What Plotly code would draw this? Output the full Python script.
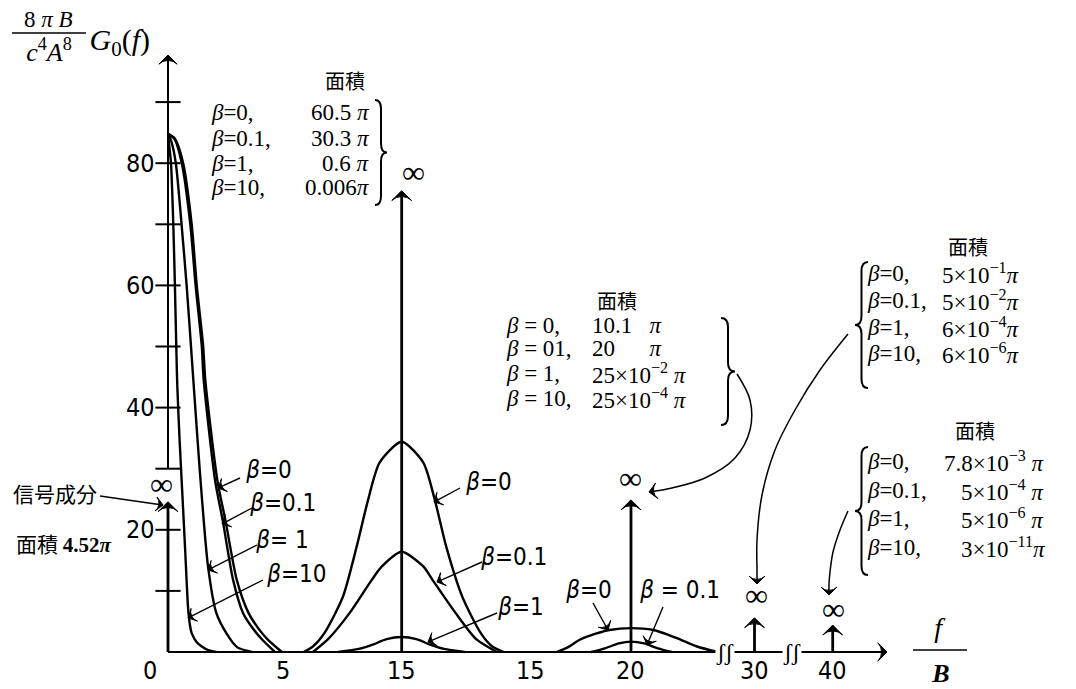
import plotly.graph_objects as go

# ---------------- data ----------------
# horizontal axis is hand-drawn: positions in "f/B" display units
xtick_pos = [0, 5, 10.16, 15.74, 20.13, 25.5, 28.9]
xtick_text = ["0", "5", "15", "15", "20", "30", "40"]
ytick_vals = [10, 20, 30, 40, 50, 60, 70, 80, 90]
ytick_labeled = [20, 40, 60, 80]

# beta = 0
b0_f1 = [0, 0.3, 0.66, 1.03, 1.25, 1.53, 1.62, 2.15, 2.5, 2.99, 3.5, 4.0, 4.35, 4.95]
b0_v1 = [84.8, 84, 80, 70, 60, 50, 44.6, 28, 21.5, 11.8, 6.4, 3.5, 2, 0]
b0_f2 = [5.9, 6.3, 6.8, 7.6, 8.2, 8.7, 9.2, 10.16, 11.1, 11.6, 12.1, 12.8, 13.6, 14.1, 14.6]
b0_v2 = [0, 0.9, 3.1, 9, 17.2, 24.9, 31, 34.4, 31, 24.9, 17.2, 9, 3.1, 0.9, 0]
b0_f3 = [16.9, 17.4, 17.9, 18.6, 19.2, 20.13, 21.1, 21.7, 22.3, 23.0, 23.9]
b0_v3 = [0, 0.8, 2.0, 3.0, 3.6, 3.9, 3.6, 2.9, 2.0, 0.9, 0]
# beta = 0.1
b01_f1 = [0, 0.28, 0.6, 0.97, 1.2, 1.47, 1.55, 2.05, 2.38, 2.83, 3.26, 3.7, 4.1, 4.65]
b01_v1 = [84.8, 84, 80, 70, 60, 50, 44.6, 28, 21.5, 11.8, 6.4, 3.8, 2, 0]
b01_f2 = [6.3, 6.96, 7.9, 8.86, 9.3, 10.16, 11.1, 11.5, 12.5, 13.4, 14.3]
b01_v2 = [0, 2.1, 6.4, 11.8, 14, 16.4, 14, 11.8, 6.4, 2.1, 0]
b01_f3 = [18.4, 19.0, 19.6, 20.13, 20.7, 21.3, 21.9]
b01_v3 = [0, 0.6, 1.4, 1.7, 1.4, 0.6, 0]
# beta = 1
b1_f1 = [0, 0.15, 0.34, 0.59, 0.81, 1.0, 1.1, 1.39, 1.74, 2.1, 2.55, 3.0, 3.65]
b1_v1 = [84.8, 83.5, 80, 70, 60, 50, 44.6, 29.3, 14, 6.4, 3, 0.8, 0]
b1_f2 = [7.4, 8.3, 8.9, 9.5, 10.16, 10.8, 11.4, 12.0, 12.9]
b1_v2 = [0, 0.5, 1.2, 2.1, 2.45, 2.1, 1.2, 0.5, 0]
# beta = 10
b10_f1 = [0, 0.05, 0.13, 0.23, 0.3, 0.36, 0.4, 0.5, 0.63, 0.75, 0.87, 0.95, 1.03, 1.25, 1.47, 1.75, 2.1]
b10_v1 = [84.8, 83, 80, 70, 60, 50, 44, 35, 25.4, 16.4, 7.4, 4.5, 3.1, 1.6, 0.9, 0.3, 0]

# delta (impulse) components
impulse_f = [0, 10.16, 20.13, 25.5, 28.9]
impulse_h = [24.6, 75.5, 24.9, 5.6, 4.4]

# ---------------- geometry helpers ----------------
W, H = 1076, 689
X0_PX, X_SC = 168.0, 23.0
Y0_PX, Y_SC = 652.0, 6.11


def fx(p):
    return (p - X0_PX) / X_SC


def fy(p):
    return (Y0_PX - p) / Y_SC


def PX(p):
    return p / W


def PY(p):
    return 1 - p / H


SERIF = "Liberation Serif, Times New Roman, serif"
NARROW = "DejaVu Sans Condensed, Liberation Sans Narrow, Liberation Sans, sans-serif"
CJK = "Noto Sans CJK JP, Noto Sans CJK SC, sans-serif"
NB = "\u00a0"
HS = "\u200a"  # hair space so no text begins with a markup tag

fig = go.Figure()


def join(*segs):
    xs, ys = [], []
    for i, (a, b) in enumerate(segs):
        if i:
            xs.append(None)
            ys.append(None)
        xs += a
        ys += b
    return xs, ys


curves = [
    join((b0_f1, b0_v1), (b0_f2, b0_v2), (b0_f3, b0_v3)),
    join((b01_f1, b01_v1), (b01_f2, b01_v2), (b01_f3, b01_v3)),
    join((b1_f1, b1_v1), (b1_f2, b1_v2)),
    join((b10_f1, b10_v1)),
]
for xs, ys in curves:
    fig.add_trace(go.Scatter(x=xs, y=ys, mode="lines", connectgaps=False,
                             line=dict(color="black", width=2.4, shape="spline", smoothing=0.7),
                             hoverinfo="skip"))

# y-axis tick marks
fig.add_trace(go.Scatter(x=[0] * len(ytick_vals), y=ytick_vals, mode="markers",
                         marker=dict(symbol="line-ew", size=18, line=dict(width=2, color="black")),
                         hoverinfo="skip"))


def arrow(xs, ys, width=1.5, head=9, spline=False):
    n = len(xs)
    fig.add_trace(go.Scatter(
        x=xs, y=ys, mode="lines+markers", hoverinfo="skip",
        line=dict(color="black", width=width, shape="spline" if spline else "linear"),
        marker=dict(symbol=["circle"] * (n - 1) + ["arrow-wide"], size=[0] * (n - 1) + [head],
                    angleref="previous", color="black", opacity=1,
                    line=dict(width=1, color="black"))))


def parrow(pts, width=1.5, head=9, spline=False):
    arrow([fx(a) for a, b in pts], [fy(b) for a, b in pts], width, head, spline)


# axes
arrow([0, 31.26], [0, 0], width=2, head=13)
arrow([0, 0], [30, fy(55)], width=2, head=13)
# impulses
for f, h in zip(impulse_f, impulse_h):
    arrow([f, f], [0, h], width=2.8, head=14)

ann = []
shapes = []


def txt(x, y, s, size, family=SERIF, xa="center", ya="middle", **kw):
    if s.startswith("<"):
        s = HS + s
    d = dict(x=PX(x), y=PY(y), xref="paper", yref="paper", text=s, showarrow=False,
             font=dict(size=size, family=family, color="black"), xanchor=xa, yanchor=ya)
    d.update(kw)
    return d


# tick labels
for v in ytick_labeled:
    ann.append(dict(x=PX(157), y=v, xref="paper", yref="y", text=str(v), showarrow=False,
                    xanchor="right", yanchor="middle", font=dict(size=25, family=NARROW, color="black")))
for p, t in zip(xtick_pos, xtick_text):
    ann.append(dict(x=p, y=PY(670), xref="x", yref="paper", text=t, showarrow=False,
                    xanchor="center", yanchor="middle", xshift=-18 if p == 0 else 0,
                    font=dict(size=25, family=NARROW, color="black")))

# axis titles
ann.append(txt(48, 19, "8" + NB + "<i>π</i>" + NB + "<i>B</i>", 23))
ann.append(txt(48, 50, "<i>c</i><sup>4</sup><i>A</i><sup>8</sup>", 26))
ann.append(txt(118, 42, "<i>G</i><sub>0</sub>(<i>f</i>)", 30))
shapes.append(dict(type="line", xref="paper", yref="paper", x0=PX(12), x1=PX(86), y0=PY(33), y1=PY(33),
                   line=dict(color="black", width=1.5)))
ann.append(txt(938, 627, "<i>f</i>", 28))
ann.append(txt(940, 673, "<b><i>B</i></b>", 26))
shapes.append(dict(type="line", xref="paper", yref="paper", x0=PX(913), x1=PX(967), y0=PY(650), y1=PY(650),
                   line=dict(color="black", width=1.5)))

# infinity labels
for (x, y) in [(161, 484), (413, 172), (630, 478), (756, 595), (833, 609)]:
    ann.append(txt(x, y, "∞", 32))

# axis break marks
for x in [725, 792]:
    ann.append(txt(x, 652, "ʃʃ", 24, bgcolor="white", borderpad=0))

# signal component label
ann.append(txt(55, 493, "信号成分", 21, family=CJK))
parrow([(100, 496), (163, 505)], width=1.4, head=10)
ann.append(txt(14, 543, "面積" + NB + "<b><span style='font-family:Liberation Serif'>4.52<i>π</i></span></b>",
               21, family=CJK, xa="left"))

# curve labels with arrows
curve_labels = [
    ((268, 470), "<i>β</i>=0", (218, 488), (240, 478)),
    ((282, 503), "<i>β</i>=0.1", (222, 524), (252, 508)),
    ((281, 540), "<i>β</i>=" + NB + "1", (208, 570), (257, 545)),
    ((296, 574), "<i>β</i>=10", (188, 618), (263, 580)),
    ((488, 482), "<i>β</i>=0", (434, 502), (460, 488)),
    ((513, 557), "<i>β</i>=0.1", (437, 582), (482, 562)),
    ((520, 607), "<i>β</i>=1", (428, 642), (497, 613)),
    ((588, 590), "<i>β</i>=0", (608, 630), (593, 603)),
    ((679, 590), "<i>β</i>" + NB + "=" + NB + "0.1", (647, 645), (663, 607)),
]
for (cx, cy), s, tip, tail in curve_labels:
    ann.append(txt(cx, cy, s, 24, family=NARROW))
    parrow([tail, tip], width=1.4, head=10)


# area blocks
def block(title_xy, left_x, ys, lefts, vals, val_xs, val_anchor, size=23):
    ann.append(txt(title_xy[0], title_xy[1], "面積", 20, family=CJK))
    for y, l, v, vx in zip(ys, lefts, vals, val_xs):
        ann.append(txt(left_x, y, l, size, xa="left"))
        ann.append(txt(vx, y, v, size, xa=val_anchor))


B = "<i>β</i>"
block((345, 80), 208, [113, 138, 163, 187],
      [B + "=0,", B + "=0.1,", B + "=1,", B + "=10,"],
      ["60.5" + NB + "<i>π</i>", "30.3" + NB + "<i>π</i>", "0.6" + NB + "<i>π</i>", "0.006<i>π</i>"],
      [372] * 4, "right")
block((617, 300), 503, [325, 349, 373, 398],
      [B + NB + "=" + NB + "0,", B + NB + "=" + NB + "01,", B + NB + "=" + NB + "1,", B + NB + "=" + NB + "10,"],
      ["10.1" + NB * 3 + "<i>π</i>", "20" + NB * 6 + "<i>π</i>",
       "25×10<sup>−2</sup>" + NB + "<i>π</i>", "25×10<sup>−4</sup>" + NB + "<i>π</i>"],
      [590] * 4, "left")
block((968, 247), 864, [273, 300, 327, 353],
      [B + "=0,", B + "=0.1,", B + "=1,", B + "=10,"],
      ["5×10<sup>−1</sup><i>π</i>", "5×10<sup>−2</sup><i>π</i>",
       "6×10<sup>−4</sup><i>π</i>", "6×10<sup>−6</sup><i>π</i>"],
      [940] * 4, "left")
block((975, 430), 864, [462, 490, 518, 547],
      [B + "=0,", B + "=0.1,", B + "=1,", B + "=10,"],
      ["7.8×10<sup>−3</sup>" + NB + "<i>π</i>", "5×10<sup>−4</sup>" + NB + "<i>π</i>",
       "5×10<sup>−6</sup>" + NB + "<i>π</i>", "3×10<sup>−11</sup><i>π</i>"],
      [942, 959, 959, 959], "left")


def brace(xb, ytop, ybot, w, r=9):
    q = w / 2.0
    ym = (ytop + ybot) / 2.0
    pts = [("M", [(xb, ytop)]),
           ("Q", [(xb + q, ytop), (xb + q, ytop + r)]),
           ("L", [(xb + q, ym - r)]),
           ("Q", [(xb + q, ym), (xb + w, ym)]),
           ("Q", [(xb + q, ym), (xb + q, ym + r)]),
           ("L", [(xb + q, ybot - r)]),
           ("Q", [(xb + q, ybot), (xb, ybot)])]
    path = " ".join(c + " " + " ".join(f"{PX(a):.5f},{PY(b):.5f}" for a, b in p) for c, p in pts)
    return dict(type="path", xref="paper", yref="paper", path=path, line=dict(color="black", width=2))


shapes.append(brace(375, 100, 205, 12))
shapes.append(brace(721, 318, 425, 14))
shapes.append(brace(868, 262, 388, -13))
shapes.append(brace(868, 447, 575, -13))

# curved callouts from the area blocks to the impulses
parrow([(737, 374), (750, 400), (750, 430), (735, 458), (705, 478), (672, 488), (662, 490), (649, 492)],
       width=1.5, head=11, spline=True)
parrow([(848, 334), (820, 370), (795, 410), (775, 450), (762, 495), (757, 540), (757, 570), (757, 584)],
       width=1.5, head=11, spline=True)
parrow([(848, 511), (840, 530), (833, 552), (830, 572), (829, 584), (829, 595)],
       width=1.5, head=11, spline=True)

fig.update_layout(
    width=W, height=H, margin=dict(l=0, r=0, t=0, b=0, pad=0),
    paper_bgcolor="white", plot_bgcolor="white", showlegend=False,
    xaxis=dict(range=[fx(0), fx(W)], visible=False, fixedrange=True),
    yaxis=dict(range=[fy(H), fy(0)], visible=False, fixedrange=True),
    annotations=ann, shapes=shapes,
)

fig.write_html("out.html", config={"displayModeBar": False},
               post_script="document.body.style.margin='0px';document.body.style.overflow='hidden';")
